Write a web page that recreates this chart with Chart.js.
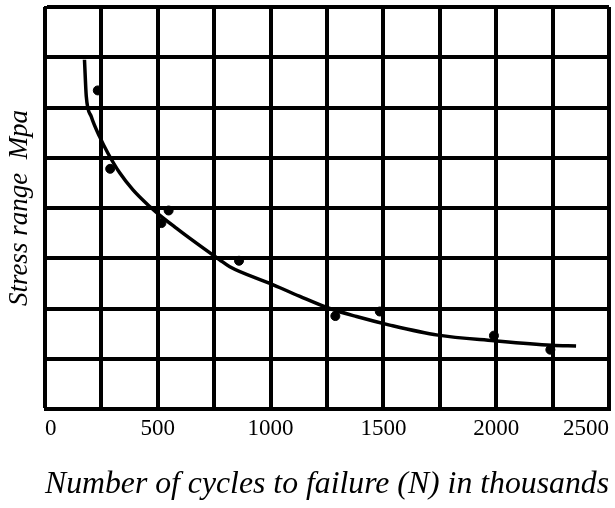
<!DOCTYPE html>
<html>
<head>
<meta charset="utf-8">
<script src="https://cdn.jsdelivr.net/npm/chart.js@4/dist/chart.umd.min.js"></script>
<style>
  html, body { margin: 0; padding: 0; background: #fff; }
  #wrap { width: 615px; height: 508px; }
</style>
</head>
<body>
<div id="wrap"><canvas id="chart" width="615" height="508"></canvas></div>
<script>
// cycles to failure, thousands (x) / stress range in grid divisions (y, axis is unnumbered)
const testCycles = [234, 289, 548, 516, 860, 1287, 1484, 1990, 2240]
const testStress = [6.34, 4.78, 3.95, 3.70, 2.95, 1.85, 1.94, 1.46, 1.18]

// fitted S-N curve
const curveCycles = [175, 183, 205, 242, 279, 331, 390, 464, 508, 582, 641, 774, 819, 997, 1130, 1255, 1381, 1528, 1742, 1991, 2246, 2354]
const curveStress = [6.95, 6.22, 5.82, 5.42, 5.09, 4.70, 4.36, 4.03, 3.86, 3.60, 3.40, 2.97, 2.83, 2.50, 2.24, 2.01, 1.84, 1.67, 1.47, 1.36, 1.27, 1.255]

const xTickValues = [0, 500, 1000, 1500, 2000, 2500]
const xTickLabels = ['0', '500', '1000', '1500', '2000', '2500']

const serif = '"Liberation Serif", "Times New Roman", serif'

const toPoints = (xs, ys) => xs.map((x, i) => ({x: x, y: ys[i]}))

new Chart(document.getElementById('chart'), {
    type: 'scatter',
    data: {
        datasets: [
            {
                type: 'line',
                data: toPoints(curveCycles, curveStress),
                borderColor: '#000',
                borderWidth: 3.5,
                pointRadius: 0,
                cubicInterpolationMode: 'monotone',
                fill: false
            },
            {
                data: toPoints(testCycles, testStress),
                backgroundColor: '#000',
                borderColor: '#000',
                pointRadius: 4.5,
                pointHoverRadius: 4.5
            }
        ]
    },
    options: {
        responsive: false,
        animation: false,
        layout: {padding: {top: 7, right: 6, left: 0, bottom: 0}},
        plugins: {legend: {display: false}, tooltip: {enabled: false}},
        scales: {
            x: {
                type: 'linear',
                min: 0,
                max: 2500,
                afterFit: s => { s.height = 99; s.paddingLeft = 0; s.paddingRight = 0 },
                grid: {color: '#000', lineWidth: 4, drawTicks: false},
                border: {color: '#000', width: 3},
                ticks: {
                    stepSize: 250,
                    autoSkip: false,
                    maxRotation: 0,
                    align: 'inner',
                    padding: 6,
                    color: '#000',
                    font: {family: serif, size: 23},
                    callback: v => {
                        const i = xTickValues.indexOf(v)
                        return i < 0 ? '' : xTickLabels[i]
                    }
                },
                title: {
                    display: true,
                    text: 'Number of cycles to failure (N) in thousands',
                    color: '#000',
                    font: {family: serif, size: 32, style: 'italic'},
                    padding: {top: 0, bottom: 4}
                }
            },
            y: {
                type: 'linear',
                min: 0,
                max: 8,
                afterFit: s => { s.width = 45 },
                grid: {color: '#000', lineWidth: 4, drawTicks: false},
                border: {color: '#000', width: 3},
                ticks: {display: false, stepSize: 1},
                title: {
                    display: true,
                    text: 'Stress range  Mpa',
                    color: '#000',
                    font: {family: serif, size: 27, style: 'italic'},
                    padding: {top: 4, bottom: 0}
                }
            }
        }
    }
})
</script>
</body>
</html>
